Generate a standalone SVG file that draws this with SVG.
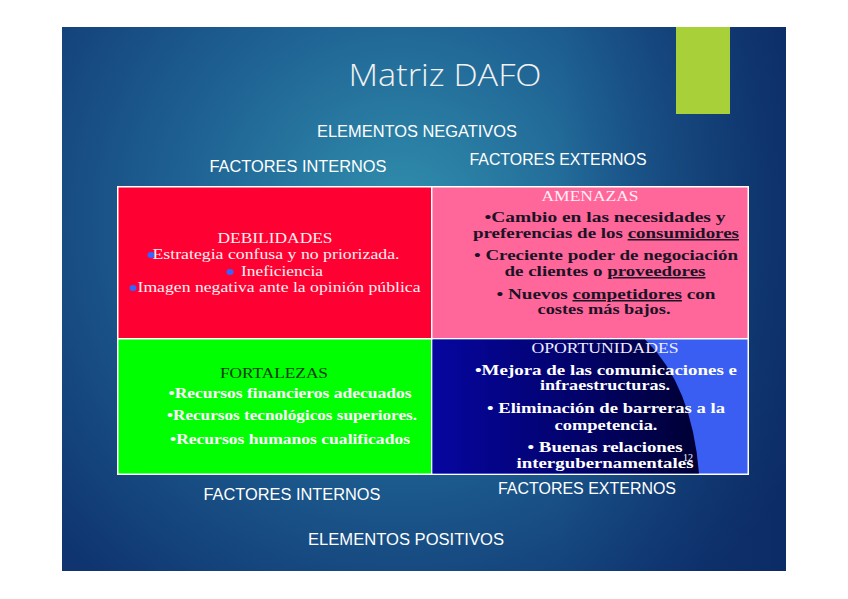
<svg xmlns="http://www.w3.org/2000/svg" width="848" height="599" viewBox="0 0 848 599">
<defs>
<radialGradient id="bg" cx="400" cy="220" r="470" gradientUnits="userSpaceOnUse">
<stop offset="0" stop-color="#3190ae"/>
<stop offset="0.45" stop-color="#1f6394"/>
<stop offset="1" stop-color="#0f3470"/>
</radialGradient>
<linearGradient id="tr" x1="0" y1="0" x2="1" y2="0">
<stop offset="0" stop-color="#0c2b66" stop-opacity="0"/>
<stop offset="1" stop-color="#0a2660" stop-opacity="0.6"/>
</linearGradient>
<linearGradient id="navy" x1="432" y1="0" x2="700" y2="0" gradientUnits="userSpaceOnUse">
<stop offset="0" stop-color="#0606a0"/>
<stop offset="0.55" stop-color="#02026a"/>
<stop offset="1" stop-color="#000033"/>
</linearGradient>
<style>
.lbl{font-family:"Liberation Sans Narrow","Liberation Sans",sans-serif;font-size:16px;fill:#ffffff;text-anchor:middle}
.hd{font-family:"Liberation Serif",serif;font-size:14.5px;text-anchor:middle}
.b{font-family:"Liberation Serif",serif;font-size:15px;font-weight:bold;text-anchor:middle}
.r{font-family:"Liberation Serif",serif;font-size:14.5px;text-anchor:middle;fill:#fff0f0}
.u{text-decoration:underline}
</style>
</defs>
<g id="slide">
<rect x="62" y="27" width="724" height="544" fill="url(#bg)"/>
<rect x="560" y="27" width="226" height="544" fill="url(#tr)"/>
<rect x="676" y="27" width="54" height="87" fill="#a8d038"/>
<text x="445" y="86" font-family="'Open Sans','DejaVu Sans',sans-serif" font-weight="300" font-size="31" fill="#f2f2f2" text-anchor="middle" textLength="193" lengthAdjust="spacingAndGlyphs">Matriz DAFO</text>
<text class="lbl" x="417" y="137" textLength="200" lengthAdjust="spacingAndGlyphs">ELEMENTOS NEGATIVOS</text>
<text class="lbl" x="298" y="172" textLength="177" lengthAdjust="spacingAndGlyphs">FACTORES INTERNOS</text>
<text class="lbl" x="558" y="165" textLength="177" lengthAdjust="spacingAndGlyphs">FACTORES EXTERNOS</text>
<text class="lbl" x="292" y="500" textLength="177" lengthAdjust="spacingAndGlyphs">FACTORES INTERNOS</text>
<text class="lbl" x="587" y="494" textLength="178" lengthAdjust="spacingAndGlyphs">FACTORES EXTERNOS</text>
<text class="lbl" x="406" y="545" textLength="196" lengthAdjust="spacingAndGlyphs">ELEMENTOS POSITIVOS</text>
</g>
<g id="matrix-frame">
<rect x="117" y="186" width="632" height="289" fill="#ffffff"/>
</g>
<g id="debilidades">
<rect x="118.5" y="187.5" width="312.5" height="150.5" fill="#ff0033"/>
<text class="r" x="275" y="243" textLength="115" lengthAdjust="spacingAndGlyphs">DEBILIDADES</text>
<ellipse cx="151" cy="255" rx="3.5" ry="3" fill="#3366ff"/>
<text class="r" x="276" y="259" textLength="247" lengthAdjust="spacingAndGlyphs">Estrategia confusa y no priorizada.</text>
<ellipse cx="230" cy="272" rx="3.5" ry="3" fill="#3366ff"/>
<text class="r" x="282" y="276" textLength="82" lengthAdjust="spacingAndGlyphs">Ineficiencia</text>
<ellipse cx="133" cy="288" rx="3.5" ry="3" fill="#3366ff"/>
<text class="r" x="279" y="292" textLength="283" lengthAdjust="spacingAndGlyphs">Imagen negativa ante la opinión pública</text>
</g>
<g id="amenazas">
<rect x="432.5" y="187.5" width="315" height="150.5" fill="#ff6699"/>
<text class="hd" x="590" y="201" fill="#fff0f5" textLength="97" lengthAdjust="spacingAndGlyphs">AMENAZAS</text>
<g fill="#1a1326">
<text class="b" x="605" y="222" textLength="241" lengthAdjust="spacingAndGlyphs">•Cambio en las necesidades y</text>
<text class="b" x="606" y="238" textLength="266" lengthAdjust="spacingAndGlyphs">preferencias de los <tspan class="u">consumidores</tspan></text>
<text class="b" x="606" y="260" textLength="264" lengthAdjust="spacingAndGlyphs">• Creciente poder de negociación</text>
<text class="b" x="605" y="276" textLength="201" lengthAdjust="spacingAndGlyphs">de clientes o <tspan class="u">proveedores</tspan></text>
<text class="b" x="606" y="299" textLength="219" lengthAdjust="spacingAndGlyphs">• Nuevos <tspan class="u">competidores</tspan> con</text>
<text class="b" x="604" y="314" textLength="133" lengthAdjust="spacingAndGlyphs">costes más bajos.</text>
</g>
</g>
<g id="fortalezas">
<rect x="118.5" y="339.5" width="312.5" height="134" fill="#00ff00"/>
<text class="hd" x="274" y="378" fill="#0a3a0a" textLength="108" lengthAdjust="spacingAndGlyphs">FORTALEZAS</text>
<g fill="#ffffff">
<text class="b" x="290" y="398" textLength="243" lengthAdjust="spacingAndGlyphs">•Recursos financieros adecuados</text>
<text class="b" x="292" y="420" textLength="250" lengthAdjust="spacingAndGlyphs">•Recursos tecnológicos superiores.</text>
<text class="b" x="290" y="444" textLength="240" lengthAdjust="spacingAndGlyphs">•Recursos humanos cualificados</text>
</g>
</g>
<g id="oportunidades">
<rect x="432.5" y="339.5" width="315" height="134" fill="#3a5ef2"/>
<path d="M432.5,339.5 L645,339.5 Q692,385 699,473.5 L432.5,473.5 Z" fill="url(#navy)"/>
<text class="hd" x="605" y="353" fill="#eeeeff" textLength="147" lengthAdjust="spacingAndGlyphs">OPORTUNIDADES</text>
<g fill="#ffffff">
<text class="b" x="606" y="375" textLength="262" lengthAdjust="spacingAndGlyphs">•Mejora de las comunicaciones e</text>
<text class="b" x="605" y="390" textLength="130" lengthAdjust="spacingAndGlyphs">infraestructuras.</text>
<text class="b" x="606" y="413" textLength="238" lengthAdjust="spacingAndGlyphs">• Eliminación de barreras a la</text>
<text class="b" x="606" y="430" textLength="103" lengthAdjust="spacingAndGlyphs">competencia.</text>
<text class="b" x="605" y="452" textLength="155" lengthAdjust="spacingAndGlyphs">• Buenas relaciones</text>
<text class="b" x="605" y="468" textLength="177" lengthAdjust="spacingAndGlyphs">intergubernamentales</text>
<text x="688" y="461" font-family="'Liberation Serif',serif" font-size="10" text-anchor="middle">12</text>
</g>
</g>
</svg>
